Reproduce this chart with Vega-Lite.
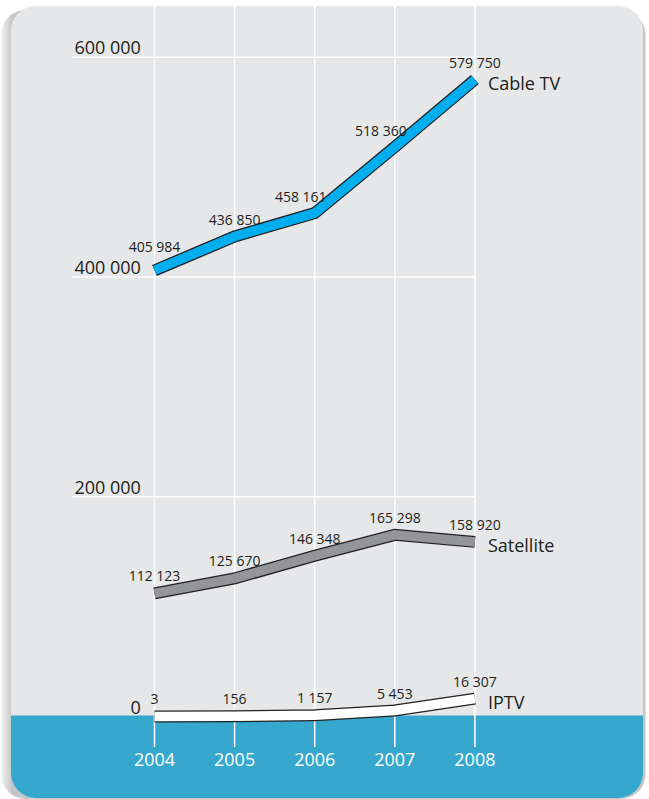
{
  "$schema": "https://vega.github.io/schema/vega-lite/v6.json",
  "width": 632,
  "height": 792,
  "autosize": {"type": "none"},
  "padding": {"left": 11, "top": 6, "right": 6, "bottom": 1},
  "background": "#ffffff",
  "config": {
    "view": {"stroke": null},
    "font": "Open Sans",
    "locale": {"number": {"decimal": ",", "thousands": " ", "grouping": [3], "currency": ["", ""]}}
  },
  "datasets": {
    "pts": [
      {"series": "Cable TV", "year": 2004, "value": 405984},
      {"series": "Cable TV", "year": 2005, "value": 436850},
      {"series": "Cable TV", "year": 2006, "value": 458161},
      {"series": "Cable TV", "year": 2007, "value": 518360},
      {"series": "Cable TV", "year": 2008, "value": 579750},
      {"series": "Satellite", "year": 2004, "value": 112123},
      {"series": "Satellite", "year": 2005, "value": 125670},
      {"series": "Satellite", "year": 2006, "value": 146348},
      {"series": "Satellite", "year": 2007, "value": 165298},
      {"series": "Satellite", "year": 2008, "value": 158920},
      {"series": "IPTV", "year": 2004, "value": 3},
      {"series": "IPTV", "year": 2005, "value": 156},
      {"series": "IPTV", "year": 2006, "value": 1157},
      {"series": "IPTV", "year": 2007, "value": 5453},
      {"series": "IPTV", "year": 2008, "value": 16307}
    ],
    "years": [{"year": 2004}, {"year": 2005}, {"year": 2006}, {"year": 2007}, {"year": 2008}],
    "grid": [{"v": 200000}, {"v": 400000}, {"v": 600000}],
    "ylabels": [{"v": 0}, {"v": 200000}, {"v": 400000}, {"v": 600000}]
  },
  "layer": [
    {
      "data": {"values": [{}]},
      "mark": {"type": "rect", "cornerRadius": 25, "fill": {"gradient": "linear", "x1": 0, "x2": 1, "y1": 0, "y2": 0, "stops": [{"offset": 0, "color": "#f4f4f4"}, {"offset": 0.017, "color": "#c6c6c6"}, {"offset": 1, "color": "#c6c6c6"}]}},
      "encoding": {
        "x": {"datum": 2002.0837, "type": "quantitative", "scale": {"domain": [2002.2085, 2010.0985], "nice": false, "zero": false}, "axis": null},
        "x2": {"datum": 2010.13},
        "y": {"datum": 643032, "type": "quantitative", "scale": {"domain": [-74178, 646673], "nice": false, "zero": false}, "axis": null},
        "y2": {"datum": -75088}
      }
    },
    {
      "data": {"values": [{}]},
      "mark": {"type": "rect", "cornerRadius": 25, "fill": "#e6e7e8"},
      "encoding": {
        "x": {"datum": 2002.2085, "type": "quantitative"},
        "x2": {"datum": 2010.0985},
        "y": {"datum": 646673, "type": "quantitative"},
        "y2": {"datum": -74178}
      }
    },
    {
      "data": {"values": [{}]},
      "mark": {"type": "rect", "cornerRadiusBottomLeft": 25, "cornerRadiusBottomRight": 25, "fill": "#36a8ce"},
      "encoding": {
        "x": {"datum": 2002.2085, "type": "quantitative"},
        "x2": {"datum": 2010.0985},
        "y": {"datum": 1000, "type": "quantitative"},
        "y2": {"datum": -74178}
      }
    },
    {
      "data": {"name": "years"},
      "mark": {"type": "rule", "color": "#ffffff", "strokeWidth": 1.5},
      "encoding": {
        "x": {"field": "year", "type": "quantitative"},
        "y": {"datum": 646673, "type": "quantitative"},
        "y2": {"datum": -27800}
      }
    },
    {
      "data": {"name": "grid"},
      "mark": {"type": "rule", "color": "#ffffff", "strokeWidth": 1.5},
      "encoding": {
        "x": {"datum": 2002.97, "type": "quantitative"},
        "x2": {"datum": 2008},
        "y": {"field": "v", "type": "quantitative"}
      }
    },
    {
      "data": {"name": "ylabels"},
      "mark": {"type": "text", "align": "right", "baseline": "alphabetic", "dy": -3, "fontSize": 18, "color": "#231f20"},
      "encoding": {
        "x": {"datum": 2003.83, "type": "quantitative"},
        "y": {"field": "v", "type": "quantitative"},
        "text": {"field": "v", "type": "quantitative", "format": ",d"}
      }
    },
    {
      "data": {"name": "years"},
      "mark": {"type": "text", "align": "center", "baseline": "alphabetic", "fontSize": 18, "color": "#ffffff"},
      "encoding": {
        "x": {"field": "year", "type": "quantitative"},
        "y": {"datum": -45000, "type": "quantitative"},
        "text": {"field": "year", "type": "nominal"}
      }
    },
    {
      "data": {"name": "pts"},
      "mark": {"type": "line", "color": "#231f20", "strokeWidth": 12, "strokeCap": "butt", "strokeJoin": "miter"},
      "encoding": {
        "x": {"field": "year", "type": "quantitative"},
        "y": {"field": "value", "type": "quantitative"},
        "detail": {"field": "series", "type": "nominal"}
      }
    },
    {
      "data": {"name": "pts"},
      "mark": {"type": "line", "strokeWidth": 9.5, "strokeCap": "butt", "strokeJoin": "miter"},
      "encoding": {
        "x": {"field": "year", "type": "quantitative"},
        "y": {"field": "value", "type": "quantitative"},
        "color": {"field": "series", "type": "nominal", "scale": {"domain": ["Cable TV", "Satellite", "IPTV"], "range": ["#00aeef", "#939598", "#ffffff"]}, "legend": null}
      }
    },
    {
      "data": {"name": "pts"},
      "transform": [{"filter": "!(datum.series === 'Cable TV' && (datum.year === 2006 || datum.year === 2007 || datum.year === 2004))"}],
      "mark": {"type": "text", "align": "center", "baseline": "alphabetic", "dy": -12, "fontSize": 14, "color": "#231f20"},
      "encoding": {
        "x": {"field": "year", "type": "quantitative"},
        "y": {"field": "value", "type": "quantitative"},
        "text": {"field": "value", "type": "quantitative", "format": ",d"}
      }
    },
    {
      "data": {"name": "pts"},
      "transform": [{"filter": "datum.series === 'Cable TV' && (datum.year === 2006 || datum.year === 2007)"}],
      "mark": {"type": "text", "align": "center", "baseline": "alphabetic", "dx": -14, "dy": -11, "fontSize": 14, "color": "#231f20"},
      "encoding": {
        "x": {"field": "year", "type": "quantitative"},
        "y": {"field": "value", "type": "quantitative"},
        "text": {"field": "value", "type": "quantitative", "format": ",d"}
      }
    },
    {
      "data": {"name": "pts"},
      "transform": [{"filter": "datum.series === 'Cable TV' && datum.year === 2004"}],
      "mark": {"type": "text", "align": "center", "baseline": "alphabetic", "dy": -18, "fontSize": 14, "color": "#231f20"},
      "encoding": {
        "x": {"field": "year", "type": "quantitative"},
        "y": {"field": "value", "type": "quantitative"},
        "text": {"field": "value", "type": "quantitative", "format": ",d"}
      }
    },
    {
      "data": {"name": "pts"},
      "transform": [{"filter": "datum.year === 2008"}],
      "mark": {"type": "text", "align": "left", "baseline": "alphabetic", "dx": 13, "dy": 10, "fontSize": 18, "color": "#231f20"},
      "encoding": {
        "x": {"field": "year", "type": "quantitative"},
        "y": {"field": "value", "type": "quantitative"},
        "text": {"field": "series", "type": "nominal"}
      }
    }
  ]
}
